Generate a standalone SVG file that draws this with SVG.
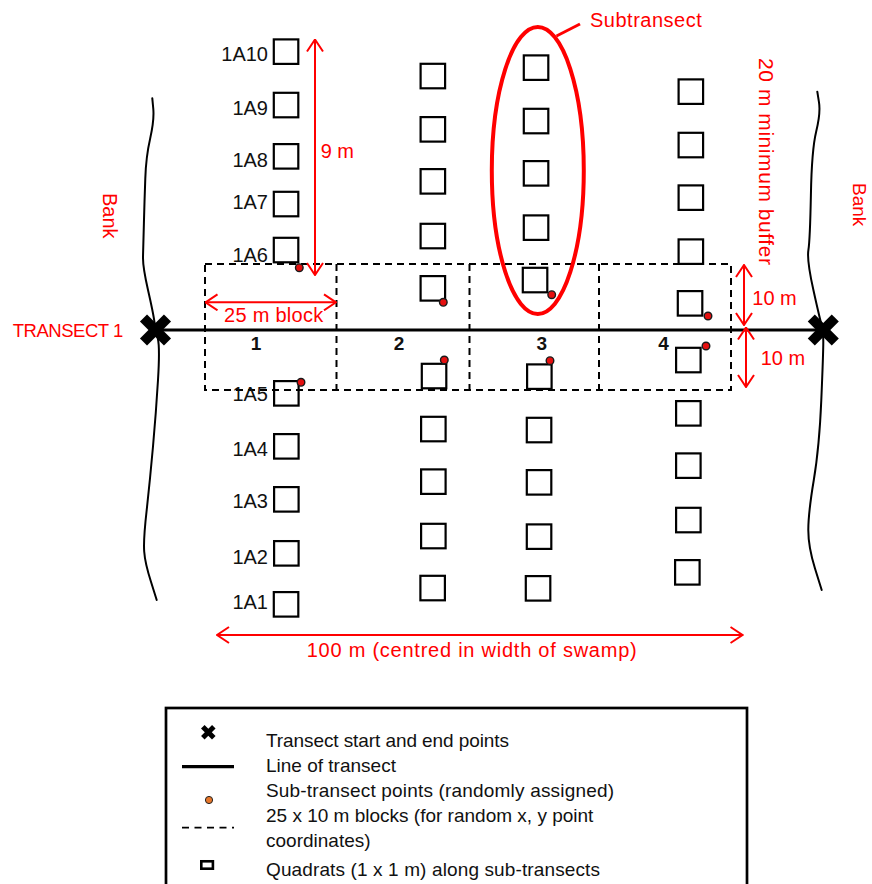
<svg xmlns="http://www.w3.org/2000/svg" width="872" height="884" viewBox="0 0 872 884">
<style>
  .q{fill:none;stroke:#000;stroke-width:2.2}
  .dot{fill:#e51010;stroke:#1a1a1a;stroke-width:1.4}
  .blk{fill:none;stroke:#000;stroke-width:2;stroke-dasharray:7 5}
  .arr{fill:none;stroke:#ff0000;stroke-width:2;marker-start:url(#ah);marker-end:url(#ah)}
  .lbl{font-family:"Liberation Sans",Arial,sans-serif;font-size:20px;fill:#111}
  .rt{font-family:"Liberation Sans",Arial,sans-serif;font-size:20px;fill:#ff0000}
  .num{font-family:"Liberation Sans",Arial,sans-serif;font-size:19px;font-weight:bold;fill:#111;text-anchor:middle}
  .leg{font-family:"Liberation Sans",Arial,sans-serif;font-size:19px;fill:#111}
  .bank{fill:none;stroke:#000;stroke-width:2;stroke-linejoin:round;stroke-linecap:round}
  .x{stroke:#000;stroke-width:10;stroke-linecap:butt}
</style>
<defs>
  <marker id="ah" viewBox="0 0 14 18" refX="13" refY="9" markerWidth="14" markerHeight="18" markerUnits="userSpaceOnUse" orient="auto-start-reverse">
    <path d="M1,1 L13,9 L1,17" fill="none" stroke="#ff0000" stroke-width="2"/>
  </marker>
</defs>
<rect width="872" height="884" fill="#fff"/>

<g id="banks">
  <path class="bank" d="M152.3,98.3 L153.3,109 Q154.3,120 150.2,138.4 Q146,156.7 145.3,178.4 Q144.5,200 143.9,223.4 Q143.3,246.7 143,256.7 Q142.7,266.7 148,290 Q153.3,313.3 154.4,321.7 Q155.5,330 157.8,338.5 Q160,347 158,380 Q156,413 153,446.5 Q150,480 146.7,510 Q143.3,540 144.2,551.5 Q145,563 150.9,581.5 L156.7,600"/>
  <path class="bank" d="M817.3,91.7 L819,102.4 Q820.7,113 816.2,131.5 Q811.7,150 810.9,195 Q810,240 808.4,250 Q806.7,260 813.4,290 Q820,320 821.7,325 Q823.3,330 823.3,341.5 Q823.3,353 821.3,400 Q819.3,447 813.8,480 Q808.3,513 808.3,530 Q808.3,547 815,568.5 L821.7,590"/>
  <text class="rt" transform="translate(103,193) rotate(90)">Bank</text>
  <text class="rt" transform="translate(853,183) rotate(90)" style="font-size:19px">Bank</text>
</g>

<g id="blocks">
  <rect class="blk" x="205" y="264" width="526" height="126"/>
  <line class="blk" x1="336.5" y1="264" x2="336.5" y2="390"/>
  <line class="blk" x1="469.5" y1="264" x2="469.5" y2="390"/>
  <line class="blk" x1="599" y1="264" x2="599" y2="390"/>
</g>

<g id="connectors">
  <line id="transect-line" x1="155" y1="330" x2="823" y2="330" stroke="#000" stroke-width="3"/>
  <line class="arr" x1="315" y1="39.5" x2="315" y2="275"/>
  <line class="arr" x1="205.5" y1="302.3" x2="336" y2="302.3"/>
  <line class="arr" x1="744" y1="265" x2="744" y2="325"/>
  <line class="arr" x1="746" y1="327.5" x2="746" y2="387"/>
  <line class="arr" x1="217" y1="635" x2="742.5" y2="635"/>
  <line x1="556.5" y1="36" x2="580" y2="24" stroke="#ff0000" stroke-width="3"/>
</g>

<g id="transect-markers">
  <g transform="translate(155.5,330)"><line class="x" x1="-12" y1="-12" x2="12" y2="12"/><line class="x" x1="-12" y1="12" x2="12" y2="-12"/></g>
  <g transform="translate(823.3,330)"><line class="x" x1="-12" y1="-12" x2="12" y2="12"/><line class="x" x1="-12" y1="12" x2="12" y2="-12"/></g>
</g>

<g id="subtransect-1">
  <rect class="q" x="273.8" y="39.4" width="24.5" height="24.5"/>
  <rect class="q" x="273.8" y="92.8" width="24.5" height="24.5"/>
  <rect class="q" x="273.8" y="144.1" width="24.5" height="24.5"/>
  <rect class="q" x="273.8" y="191.8" width="24.5" height="24.5"/>
  <rect class="q" x="273.8" y="237.8" width="24.5" height="24.5"/>
  <rect class="q" x="274.1" y="381.1" width="24.5" height="24.5"/>
  <rect class="q" x="274.1" y="434.1" width="24.5" height="24.5"/>
  <rect class="q" x="274.1" y="487.1" width="24.5" height="24.5"/>
  <rect class="q" x="274.1" y="541.1" width="24.5" height="24.5"/>
  <rect class="q" x="273.8" y="592.1" width="24.5" height="24.5"/>
  <text class="lbl" x="268" y="60.7" text-anchor="end">1A10</text>
  <text class="lbl" x="268" y="115" text-anchor="end">1A9</text>
  <text class="lbl" x="268" y="166.7" text-anchor="end">1A8</text>
  <text class="lbl" x="268" y="209" text-anchor="end">1A7</text>
  <text class="lbl" x="268" y="261.7" text-anchor="end">1A6</text>
  <text class="lbl" x="268" y="400.7" text-anchor="end">1A5</text>
  <text class="lbl" x="268" y="456" text-anchor="end">1A4</text>
  <text class="lbl" x="268" y="507.7" text-anchor="end">1A3</text>
  <text class="lbl" x="268" y="564" text-anchor="end">1A2</text>
  <text class="lbl" x="268" y="609.3" text-anchor="end">1A1</text>
  <circle class="dot" cx="299.3" cy="267.7" r="3.8"/>
  <circle class="dot" cx="301" cy="382.3" r="3.8"/>
</g>

<g id="subtransect-2">
  <rect class="q" x="420.6" y="63.8" width="24.5" height="24.5"/>
  <rect class="q" x="420.6" y="117.1" width="24.5" height="24.5"/>
  <rect class="q" x="420.6" y="169.1" width="24.5" height="24.5"/>
  <rect class="q" x="420.6" y="223.8" width="24.5" height="24.5"/>
  <rect class="q" x="420.6" y="276.1" width="24.5" height="24.5"/>
  <rect class="q" x="421.8" y="363.8" width="24.5" height="24.5"/>
  <rect class="q" x="421.1" y="416.8" width="24.5" height="24.5"/>
  <rect class="q" x="421.1" y="469.4" width="24.5" height="24.5"/>
  <rect class="q" x="421.1" y="523.8" width="24.5" height="24.5"/>
  <rect class="q" x="420.4" y="575.8" width="24.5" height="24.5"/>
  <circle class="dot" cx="443.3" cy="302.3" r="3.8"/>
  <circle class="dot" cx="444.3" cy="360" r="3.8"/>
</g>

<g id="subtransect-3">
  <rect class="q" x="523.8" y="55.4" width="24.5" height="24.5"/>
  <rect class="q" x="523.8" y="108.8" width="24.5" height="24.5"/>
  <rect class="q" x="523.8" y="161.1" width="24.5" height="24.5"/>
  <rect class="q" x="523.8" y="215.4" width="24.5" height="24.5"/>
  <rect class="q" x="522.8" y="267.8" width="24.5" height="24.5"/>
  <rect class="q" x="527.1" y="364.4" width="24.5" height="24.5"/>
  <rect class="q" x="526.8" y="417.8" width="24.5" height="24.5"/>
  <rect class="q" x="526.8" y="470.1" width="24.5" height="24.5"/>
  <rect class="q" x="526.8" y="524.4" width="24.5" height="24.5"/>
  <rect class="q" x="525.8" y="576.1" width="24.5" height="24.5"/>
  <circle class="dot" cx="551.7" cy="294.7" r="3.8"/>
  <circle class="dot" cx="550" cy="360.7" r="3.8"/>
</g>

<g id="subtransect-4">
  <rect class="q" x="678.6" y="79.4" width="24.5" height="24.5"/>
  <rect class="q" x="678.6" y="132.8" width="24.5" height="24.5"/>
  <rect class="q" x="678.6" y="185.4" width="24.5" height="24.5"/>
  <rect class="q" x="678.6" y="239.4" width="24.5" height="24.5"/>
  <rect class="q" x="677.8" y="291.1" width="24.5" height="24.5"/>
  <rect class="q" x="676.1" y="347.8" width="24.5" height="24.5"/>
  <rect class="q" x="676.1" y="401.1" width="24.5" height="24.5"/>
  <rect class="q" x="676.1" y="453.4" width="24.5" height="24.5"/>
  <rect class="q" x="676.1" y="507.8" width="24.5" height="24.5"/>
  <rect class="q" x="675.1" y="560.1" width="24.5" height="24.5"/>
  <circle class="dot" cx="708" cy="316" r="3.8"/>
  <circle class="dot" cx="706" cy="346" r="3.8"/>
</g>

<g id="block-numbers">
  <text class="num" x="256" y="350">1</text>
  <text class="num" x="399" y="350">2</text>
  <text class="num" x="541.7" y="350">3</text>
  <text class="num" x="663.5" y="350">4</text>
</g>

<g id="subtransect-callout">
  <ellipse cx="537.8" cy="170.5" rx="46" ry="143.5" fill="none" stroke="#ff0000" stroke-width="4"/>
  <text class="rt" x="590" y="26.7" textLength="111.7">Subtransect</text>
</g>

<g id="annotations">
  <text class="rt" x="12.7" y="337.3" textLength="110.6" style="font-size:18.5px">TRANSECT 1</text>
  <text class="rt" x="320.7" y="158.3">9 m</text>
  <text class="rt" x="224" y="321.7" textLength="99.3">25 m block</text>
  <text class="rt" x="752.3" y="305">10 m</text>
  <text class="rt" x="760.7" y="365">10 m</text>
  <text class="rt" x="306.7" y="656.7" textLength="330">100 m (centred in width of swamp)</text>
  <text class="rt" transform="translate(759,58) rotate(90)" textLength="207" style="font-size:21px">20 m minimum buffer</text>
</g>

<g id="legend">
  <rect x="166" y="708" width="581" height="190" fill="none" stroke="#000" stroke-width="2.7"/>
  <g transform="translate(208.3,732.3)"><line stroke="#000" stroke-width="5" x1="-5.5" y1="-5.5" x2="5.5" y2="5.5"/><line stroke="#000" stroke-width="5" x1="-5.5" y1="5.5" x2="5.5" y2="-5.5"/></g>
  <line x1="182" y1="766.7" x2="234" y2="766.7" stroke="#000" stroke-width="3.3"/>
  <circle cx="209" cy="800" r="3.6" fill="#e8772a" stroke="#222" stroke-width="1"/>
  <line x1="182" y1="827.7" x2="234" y2="827.7" stroke="#000" stroke-width="1.8" stroke-dasharray="7 5.5"/>
  <rect x="201.3" y="861.3" width="11.6" height="7.4" fill="none" stroke="#000" stroke-width="2.6"/>
  <text class="leg" x="266" y="746.7" textLength="243">Transect start and end points</text>
  <text class="leg" x="266" y="771.7">Line of transect</text>
  <text class="leg" x="266" y="796.7" textLength="348">Sub-transect points (randomly assigned)</text>
  <text class="leg" x="266" y="821.7">25 x 10 m blocks (for random x, y point</text>
  <text class="leg" x="266" y="846.7">coordinates)</text>
  <text class="leg" x="266" y="876" textLength="334">Quadrats (1 x 1 m) along sub-transects</text>
</g>
</svg>
